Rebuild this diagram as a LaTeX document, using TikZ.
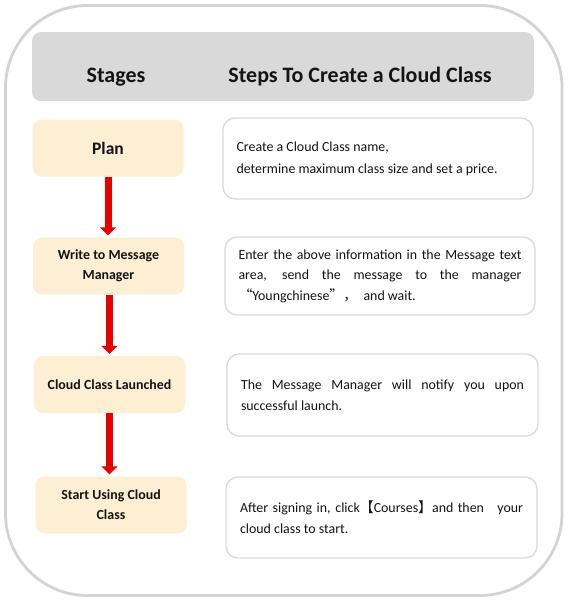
\documentclass[tikz,border=0pt]{standalone}
\usepackage{fontspec}
\setmainfont{Carlito}
\newfontfamily\cjk{Noto Sans CJK SC}
\usetikzlibrary{arrows.meta}
\definecolor{frame}{HTML}{D4D4D4}
\definecolor{hdr}{HTML}{D9D9D9}
\definecolor{beige}{HTML}{FCEFD4}
\definecolor{bordr}{HTML}{D9D9D9}
\definecolor{txt}{HTML}{141414}
\definecolor{arrred}{HTML}{E60000}
\newcommand{\jl}[1]{\makebox[283pt][s]{#1}}
\begin{document}
\begin{tikzpicture}[x=1pt,y=-1pt,
  stagebox/.style={fill=beige,rounded corners=9pt,minimum width=151pt,minimum height=57pt,
    align=center,font=\fontsize{13.9}{20}\selectfont\bfseries,text=txt,inner sep=0pt},
  stepbox/.style={draw=bordr,line width=1.3pt,fill=white,rounded corners=12pt,
    minimum width=310pt,minimum height=80pt,text=txt,inner sep=0pt},
  headtext/.style={font=\fontsize{22}{24}\selectfont\bfseries,text=txt},
  redarrow/.style={draw=arrred,line width=7pt,-{Triangle[width=16pt,length=8pt]},shorten >=2pt}
]
\useasboundingbox (0,0) rectangle (568,600);
\fill[white] (0,0) rectangle (568,600);
\draw[frame,line width=2.8pt,rounded corners=82pt] (5.5,5.5) rectangle (562,595.5);
\node[fill=hdr,rounded corners=9pt,minimum width=502pt,minimum height=69pt,inner sep=0pt] (hdr) at (283,66.5) {};
\node[headtext] (h1) at (116,77) {Stages};
\node[headtext] (h2) at (360,77) {Steps To Create a Cloud Class};

\node[stagebox,font=\fontsize{17.5}{20}\selectfont\bfseries] (plan) at (108,148) {Plan};
\node[stagebox] (write) at (108.5,266) {Write to Message\\Manager};
\node[stagebox] (launch) at (109.5,384.5) {Cloud Class Launched};
\node[stagebox] (start) at (111,505) {Start Using Cloud\\Class};

\draw[redarrow] (plan.south) -- (plan.south |- write.north);
\draw[redarrow] ([xshift=1pt]write.south) -- ([xshift=1pt]write.south |- launch.north);
\draw[redarrow] (launch.south) -- (launch.south |- start.north);

\node[stepbox,minimum height=81pt] (s1) at (378,158.5) {\parbox{283pt}{\fontsize{13.9}{22}\selectfont
Create a Cloud Class name,\\determine maximum class size and set a price.}};
\node[stepbox,minimum height=78pt] (s2) at (380,276) {\parbox{283pt}{\fontsize{13.9}{20.5}\selectfont
\jl{Enter the above information in the Message text}\\
\jl{area, send the message to the manager}\\
{\cjk “}Youngchinese{\cjk ”，}\ \ and wait.}};
\node[stepbox,minimum height=82pt,minimum width=311pt] (s3) at (382.5,395) {\parbox{283pt}{\fontsize{13.9}{21}\selectfont
\jl{The Message Manager will notify you upon}\\
successful launch.}};
\node[stepbox,minimum height=81pt,minimum width=311pt] (s4) at (381.5,517.5) {\parbox{283pt}{\fontsize{13.9}{21}\selectfont
\jl{After signing in, click{\cjk 【}Courses{\cjk 】}and then \ \ your}\\
cloud class to start.}};
\end{tikzpicture}
\end{document}
